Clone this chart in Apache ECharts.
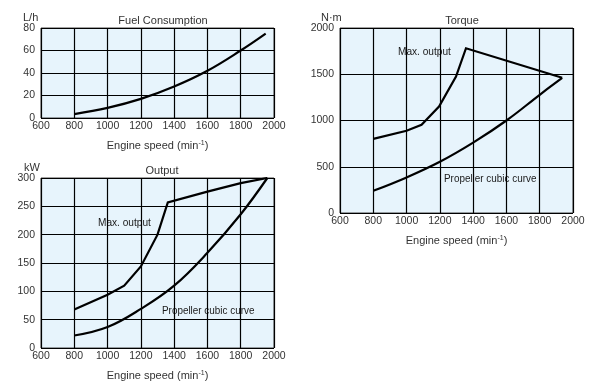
<!DOCTYPE html>
<html>
<head>
<meta charset="utf-8">
<script src="https://cdn.jsdelivr.net/npm/echarts@6/dist/echarts.min.js"></script>
<style>html,body{margin:0;padding:0;background:#fff;}#c{width:595px;height:382px;}</style>
</head>
<body>
<div id="c"></div>
<script>
// Fuel consumption (L/h)
const fuelSpeed = [800, 1000, 1200, 1400, 1600, 1800, 1950];
const fuelValue = [3.5, 9, 17, 28, 42, 60, 75];
// Output (kW)
const outMaxSpeed = [800, 1000, 1100, 1200, 1300, 1362, 1600, 1800, 1960];
const outMaxValue = [68, 94, 110, 144, 200, 257, 276, 291, 300];
const outPropSpeed = [800, 1000, 1200, 1400, 1600, 1800, 1960];
const outPropValue = [22, 37, 69, 110, 168, 236, 300];
// Torque (N·m)
const tqMaxSpeed = [800, 1000, 1090, 1195, 1297, 1357, 1935];
const tqMaxValue = [802, 889, 954, 1151, 1475, 1781, 1462];
const tqPropSpeed = [800, 1000, 1200, 1400, 1600, 1800, 1935];
const tqPropValue = [240, 385, 554, 761, 1000, 1278, 1462];
// Axis ticks
const speedMin = 600, speedMax = 2000, speedStep = 200;

const pairs = (xs, ys) => xs.map((x, i) => [x, ys[i]]);
const FONT = 'Liberation Sans, Arial, sans-serif';

const grids = [
  {left: 41, top: 28, width: 233, height: 90},
  {left: 41, top: 178, width: 233, height: 170},
  {left: 340, top: 28, width: 233, height: 185}
];
const yCfg = [{max: 80, interval: 20}, {max: 300, interval: 50}, {max: 2000, interval: 500}];

const chart = echarts.init(document.getElementById('c'));
const option = {
  animation: false,
  backgroundColor: '#fff',
  title: [
    {text: 'Fuel Consumption', left: 158, top: 10, textAlign: 'center'},
    {text: 'Output', left: 157, top: 160, textAlign: 'center'},
    {text: 'Torque', left: 457, top: 10, textAlign: 'center'},
    {text: 'L/h', left: 18, top: 7},
    {text: 'kW', left: 19, top: 157},
    {text: 'N·m', left: 316, top: 7}
  ].map(t => Object.assign(t, {textStyle: {fontFamily: FONT, fontSize: 11, fontWeight: 'normal', color: '#333'}})),
  grid: grids.map(g => Object.assign({show: true, backgroundColor: '#e7f4fc', borderColor: '#444', borderWidth: 1}, g)),
  xAxis: grids.map((g, i) => ({
    gridIndex: i, type: 'value', min: speedMin, max: speedMax, interval: speedStep,
    name: 'Engine speed (min{sup|-1})', nameLocation: 'middle', nameGap: 22,
    nameTextStyle: {fontFamily: FONT, fontSize: 11, color: '#333', rich: {sup: {fontFamily: FONT, fontSize: 7, color: '#333', verticalAlign: 'top', lineHeight: 8, padding: [0, 0, 4, 0]}}},
    axisLine: {show: false}, axisTick: {show: false},
    axisLabel: {fontFamily: FONT, fontSize: 10.5, color: '#333', margin: 3, formatter: v => String(v)},
    splitLine: {show: true, lineStyle: {color: '#000', width: 1.2}}
  })),
  yAxis: grids.map((g, i) => ({
    gridIndex: i, type: 'value', min: 0, max: yCfg[i].max, interval: yCfg[i].interval,
    axisLine: {show: false}, axisTick: {show: false},
    axisLabel: {fontFamily: FONT, fontSize: 10.5, color: '#333', margin: 6, formatter: v => String(v)},
    splitLine: {show: true, lineStyle: {color: '#000', width: 1.2}}
  })),
  series: [
    {data: pairs(fuelSpeed, fuelValue), xAxisIndex: 0, yAxisIndex: 0},
    {data: pairs(outMaxSpeed, outMaxValue), xAxisIndex: 1, yAxisIndex: 1, smooth: false},
    {data: pairs(outPropSpeed, outPropValue), xAxisIndex: 1, yAxisIndex: 1},
    {data: pairs(tqMaxSpeed, tqMaxValue), xAxisIndex: 2, yAxisIndex: 2, smooth: false},
    {data: pairs(tqPropSpeed, tqPropValue), xAxisIndex: 2, yAxisIndex: 2}
  ].map(s => Object.assign({type: 'line', showSymbol: false, smooth: 0.4,
    lineStyle: {color: '#000', width: 2.2, join: 'miter'}, z: 5}, s)),
  graphic: [
    {type: 'text', x: 98, y: 217, scaleX: 0.92, style: {text: 'Max. output', font: '11px ' + FONT, fill: '#1a1a1a'}},
    {type: 'text', x: 162, y: 305, scaleX: 0.9, style: {text: 'Propeller cubic curve', font: '11px ' + FONT, fill: '#1a1a1a'}},
    {type: 'text', x: 398, y: 46, scaleX: 0.92, style: {text: 'Max. output', font: '11px ' + FONT, fill: '#1a1a1a'}},
    {type: 'text', x: 444, y: 173, scaleX: 0.9, style: {text: 'Propeller cubic curve', font: '11px ' + FONT, fill: '#1a1a1a'}}
  ]
};
chart.setOption(option);
</script>
</body>
</html>
